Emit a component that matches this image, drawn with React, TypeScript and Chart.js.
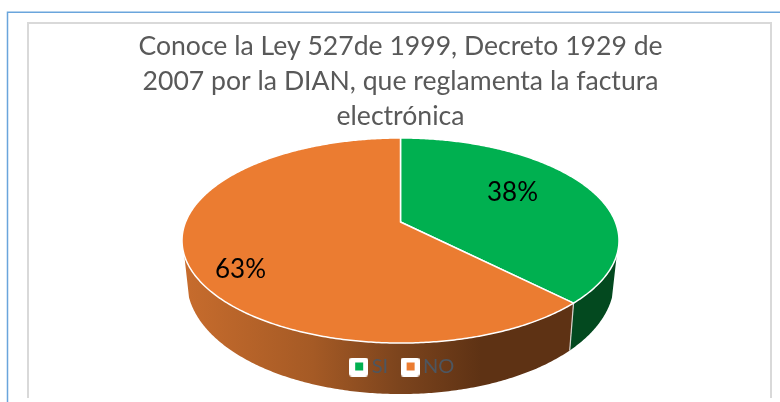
import React, { useEffect, useRef } from "react";
import { Chart, registerables } from "chart.js";

Chart.register(...registerables);

const titleLines = [
  "Conoce la Ley 527de 1999, Decreto 1929 de",
  "2007 por la DIAN, que reglamenta la factura",
  "electrónica",
];
const categories = ["SI", "NO"];
const values = [38, 63];
const sliceColors = ["#00b050", "#eb7c31"];

// Perspective of the tilted disc (maps the unit circle to the page)
const TILT = { vertexY: 222, a: 99.2, b: 214.9, k: 0.1805 };
const WALL = { from: (18.4 * Math.PI) / 180, to: (161.6 * Math.PI) / 180, shrink: 0.978, base: 38.3, grow: 12.7 };

function project(cx: number, t: number, f = 1) {
  const u = Math.cos(t) * f;
  const v = Math.sin(t) * f;
  const d = 1 - TILT.k * v;
  return { x: cx + (TILT.b * u) / d, y: TILT.vertexY + (TILT.a * v) / d };
}
function lower(cx: number, t: number) {
  const p = project(cx, t);
  return {
    x: cx + (p.x - cx) * WALL.shrink,
    y: p.y + WALL.base + WALL.grow * Math.sin(t),
  };
}

function wallFill(ctx: CanvasRenderingContext2D, i: number) {
  if (i === 0) return "#03491f";
  const g = ctx.createLinearGradient(184, 0, 575, 0);
  g.addColorStop(0, "#c76c2d");
  g.addColorStop(0.33, "#a55a25");
  g.addColorStop(0.55, "#7c441d");
  g.addColorStop(0.76, "#5e3214");
  g.addColorStop(1, "#5e3214");
  return g;
}

function drawSlice(ctx: CanvasRenderingContext2D, el: any, i: number) {
  const cx = el.x;
  const s = el.startAngle;
  const e = el.endAngle;
  const STEP = 0.01;

  const ws = Math.max(s, WALL.from);
  const we = Math.min(e, WALL.to);
  if (we > ws) {
    ctx.beginPath();
    for (let t = ws; t < we; t += STEP) {
      const p = project(cx, t);
      ctx.lineTo(p.x, p.y);
    }
    const pe = project(cx, we);
    ctx.lineTo(pe.x, pe.y);
    for (let t = we; t > ws; t -= STEP) {
      const p = lower(cx, t);
      ctx.lineTo(p.x, p.y);
    }
    const pl = lower(cx, ws);
    ctx.lineTo(pl.x, pl.y);
    ctx.closePath();
    ctx.fillStyle = wallFill(ctx, i);
    ctx.fill();
    if (s > WALL.from && s < WALL.to) {
      const a = project(cx, s);
      const b = lower(cx, s);
      ctx.beginPath();
      ctx.moveTo(a.x, a.y);
      ctx.lineTo(b.x, b.y);
      ctx.strokeStyle = "#d9d4cf";
      ctx.lineWidth = 1.2;
      ctx.stroke();
    }
  }

  ctx.beginPath();
  ctx.moveTo(cx, TILT.vertexY);
  for (let t = s; t < e; t += STEP) {
    const p = project(cx, t);
    ctx.lineTo(p.x, p.y);
  }
  const pz = project(cx, e);
  ctx.lineTo(pz.x, pz.y);
  ctx.closePath();
  ctx.fillStyle = el.options.backgroundColor;
  ctx.fill();
  ctx.lineJoin = "round";
  ctx.strokeStyle = el.options.borderColor;
  ctx.lineWidth = el.options.borderWidth;
  ctx.stroke();
}

function legendMarker(color: string) {
  const c = document.createElement("canvas");
  c.width = 19;
  c.height = 19;
  const x = c.getContext("2d")!;
  x.fillStyle = "#ffffff";
  x.beginPath();
  x.roundRect(0, 0, 19, 19, 3);
  x.fill();
  x.fillStyle = color;
  x.fillRect(6, 5, 8, 8);
  return c;
}

const labelOffsets = [
  { dx: 112, y: 193 },
  { dx: -160, y: 269.5 },
];

const pie3d = {
  id: "pie3d",
  beforeDraw(chart: any) {
    const { ctx } = chart;
    ctx.save();
    ctx.fillStyle = "#ffffff";
    ctx.fillRect(0, 0, 780, 402);
    ctx.strokeStyle = "#6aa5dc";
    ctx.lineWidth = 1.5;
    ctx.beginPath();
    ctx.moveTo(7.5, 402);
    ctx.lineTo(7.5, 12.25);
    ctx.lineTo(780, 12.25);
    ctx.stroke();
    ctx.strokeStyle = "#d9d9d9";
    ctx.lineWidth = 2;
    ctx.beginPath();
    ctx.moveTo(28, 398);
    ctx.lineTo(28, 23);
    ctx.lineTo(771, 23);
    ctx.lineTo(771, 398);
    ctx.stroke();
    ctx.restore();
  },
  beforeDatasetsDraw(chart: any) {
    chart.getDatasetMeta(0).data.forEach((el: any, i: number) => {
      el.draw = (ctx: CanvasRenderingContext2D) => drawSlice(ctx, el, i);
    });
  },
  afterDatasetsDraw(chart: any) {
    const { ctx } = chart;
    ctx.save();
    ctx.translate(4.5, 0);
    chart.legend.draw();
    ctx.restore();
    const meta = chart.getDatasetMeta(0);
    ctx.save();
    ctx.fillStyle = "#000000";
    ctx.font = "26px Lato";
    ctx.textAlign = "center";
    ctx.textBaseline = "middle";
    meta.data.forEach((el: any, i: number) => {
      const o = labelOffsets[i];
      ctx.fillText(values[i] + "%", el.x + o.dx, o.y);
    });
    ctx.restore();
  },
};

export default function App() {
  const ref = useRef<HTMLCanvasElement>(null);
  useEffect(() => {
    const chart = new Chart(ref.current!, {
      type: "pie",
      plugins: [pie3d],
      data: {
        labels: categories,
        datasets: [
          {
            data: values,
            backgroundColor: sliceColors,
            borderColor: "#ffffff",
            borderWidth: 1.5,
          },
        ],
      },
      options: {
        responsive: false,
        animation: false,
        layout: { padding: { left: 29, right: 8, top: 0, bottom: 15 } },
        plugins: {
          tooltip: { enabled: false },
          title: {
            display: true,
            text: titleLines,
            color: "#595959",
            font: { family: "Lato", size: 26.6, weight: "normal", lineHeight: 1.316 },
            padding: { top: 29, bottom: 4 },
          },
          legend: {
            display: true,
            position: "bottom",
            labels: {
              usePointStyle: true,
              boxWidth: 6,
              boxHeight: 19,
              padding: 19,
              color: "#4d5660",
              font: { family: "Lato", size: 20 },
              generateLabels: () =>
                categories.map((text, i) => ({
                  text,
                  pointStyle: legendMarker(sliceColors[i]),
                  fontColor: "#4d5660",
                  hidden: false,
                  index: i,
                  lineWidth: 0,
                })),
            },
          },
        },
      },
    } as any);
    return () => chart.destroy();
  }, []);
  return (
    <div style={{ position: "fixed", left: 0, top: 0, width: 780, height: 402 }}>
      <canvas ref={ref} width={780} height={402} style={{ display: "block" }} />
    </div>
  );
}
